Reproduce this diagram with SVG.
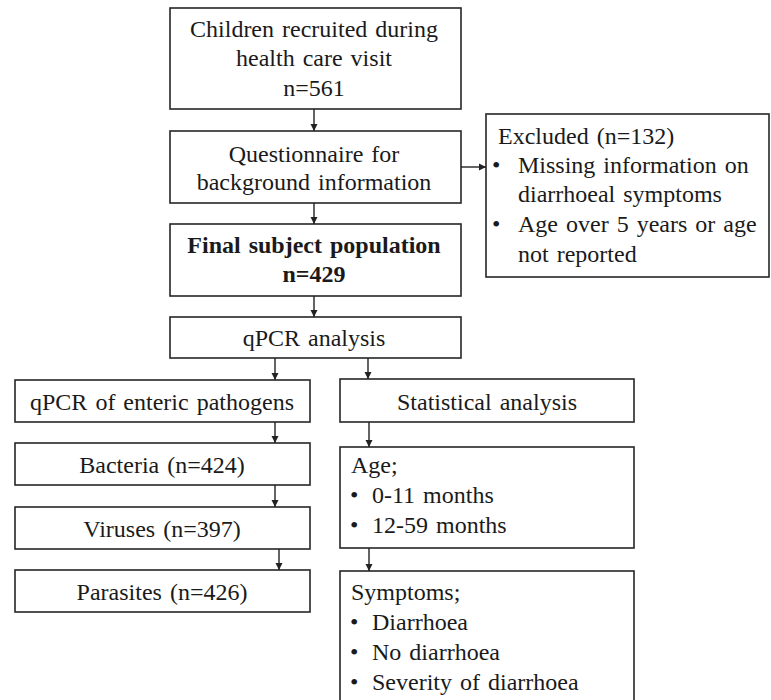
<svg xmlns="http://www.w3.org/2000/svg" width="771" height="700" viewBox="0 0 771 700">
<style>
.box{fill:#fff;stroke:#262626;stroke-width:1.6}
.t{font-size:24px;fill:#1a1a1a;word-spacing:2px}
.c{text-anchor:middle}
.b{font-weight:bold}
.conn line{stroke:#222;stroke-width:1.4;marker-end:url(#ah)}
</style>
<defs>
<marker id="ah" viewBox="0 0 10 10" refX="10" refY="5" markerWidth="7" markerHeight="8" markerUnits="userSpaceOnUse" orient="auto"><path d="M0,0 L10,5 L0,10 z" fill="#222"/></marker>
</defs>
<rect width="771" height="700" fill="#fff"/>
<g font-family="Liberation Serif" class="t">
<g id="recruited"><rect class="box" x="170" y="8" width="291" height="101"/>
<text class="c" x="314" y="37">Children recruited during</text>
<text class="c" x="314" y="66">health care visit</text>
<text class="c" x="314" y="96">n=561</text></g>
<g id="questionnaire"><rect class="box" x="170" y="131" width="291" height="72"/>
<text class="c" x="314" y="162">Questionnaire for</text>
<text class="c" x="314" y="190">background information</text></g>
<g id="excluded"><rect class="box" x="486" y="114" width="283" height="163"/>
<text x="498" y="144">Excluded (n=132)</text>
<text x="492" y="173">•</text><text x="518" y="173">Missing information on</text>
<text x="518" y="202">diarrhoeal symptoms</text>
<text x="492" y="232">•</text><text x="518" y="232">Age over 5 years or age</text>
<text x="518" y="262">not reported</text></g>
<g id="final"><rect class="box" x="170" y="224" width="291" height="72"/>
<text class="c b" x="314" y="253">Final subject population</text>
<text class="c b" x="314" y="282">n=429</text></g>
<g id="qpcr"><rect class="box" x="170" y="317" width="291" height="41"/>
<text class="c" x="314" y="346">qPCR analysis</text></g>
<g id="enteric"><rect class="box" x="15" y="380" width="295" height="42"/>
<text class="c" x="162" y="410">qPCR of enteric pathogens</text></g>
<g id="bacteria"><rect class="box" x="15" y="443" width="295" height="42"/>
<text class="c" x="162" y="473">Bacteria (n=424)</text></g>
<g id="viruses"><rect class="box" x="15" y="507" width="295" height="42"/>
<text class="c" x="162" y="537">Viruses (n=397)</text></g>
<g id="parasites"><rect class="box" x="15" y="570" width="295" height="42"/>
<text class="c" x="162" y="600">Parasites (n=426)</text></g>
<g id="statistical"><rect class="box" x="340" y="379" width="294" height="43"/>
<text class="c" x="487" y="410">Statistical analysis</text></g>
<g id="age"><rect class="box" x="340" y="447" width="294" height="101"/>
<text x="351" y="473">Age;</text>
<text x="350" y="503">•</text><text x="372" y="503">0-11 months</text>
<text x="350" y="533">•</text><text x="372" y="533">12-59 months</text></g>
<g id="symptoms"><rect class="box" x="340" y="571" width="294" height="140"/>
<text x="351" y="600">Symptoms;</text>
<text x="350" y="630">•</text><text x="372" y="630">Diarrhoea</text>
<text x="350" y="660">•</text><text x="372" y="660">No diarrhoea</text>
<text x="350" y="690">•</text><text x="372" y="690">Severity of diarrhoea</text></g>
</g>
<g class="conn" id="connectors">
<line x1="314" y1="109" x2="314" y2="131"/>
<line x1="461" y1="167" x2="486" y2="167"/>
<line x1="314" y1="203" x2="314" y2="224"/>
<line x1="314" y1="296" x2="314" y2="317"/>
<line x1="275" y1="358" x2="275" y2="380"/>
<line x1="368" y1="358" x2="368" y2="379"/>
<line x1="275" y1="422" x2="275" y2="443"/>
<line x1="275" y1="485" x2="275" y2="507"/>
<line x1="279" y1="549" x2="279" y2="570"/>
<line x1="369" y1="422" x2="369" y2="447"/>
<line x1="369" y1="548" x2="369" y2="571"/>
</g>
</svg>
